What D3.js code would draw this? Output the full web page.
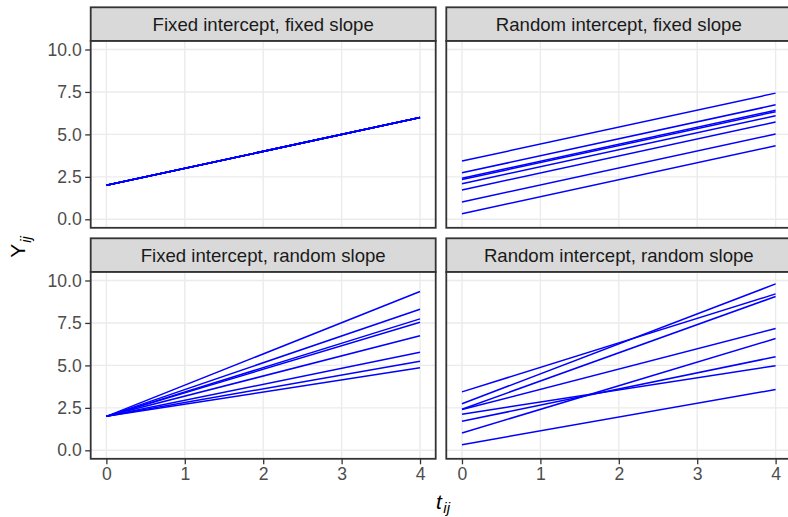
<!DOCTYPE html>
<html>
<head>
<meta charset="utf-8">
<script src="https://cdn.jsdelivr.net/npm/d3@7"></script>
<style>
  html, body { margin: 0; padding: 0; background: #ffffff; }
  svg { display: block; font-family: "Liberation Sans", Arial, Helvetica, sans-serif; }
</style>
</head>
<body>
<div id="chart"></div>
<script>
// ---------------- data ----------------
const panelTitles = [
  "Fixed intercept, fixed slope",
  "Random intercept, fixed slope",
  "Fixed intercept, random slope",
  "Random intercept, random slope"
];
const timePoints = [0, 4];
const yTicks = [0, 2.5, 5, 7.5, 10];
const xTicks = [0, 1, 2, 3, 4];

// value of Y at t = 0 and at t = 4 for each of the 8 subjects
const fifsStart = [2, 2, 2, 2, 2, 2, 2, 2];
const fifsEnd   = [6, 6, 6, 6, 6, 6, 6, 6];

const rifsStart = [3.43, 2.74, 2.42, 2.34, 2.10, 1.73, 1.02, 0.33];
const rifsEnd   = [7.43, 6.74, 6.42, 6.34, 6.10, 5.73, 5.02, 4.33];

const firsStart = [2, 2, 2, 2, 2, 2, 2, 2];
const firsEnd   = [9.35, 8.31, 7.74, 7.54, 6.75, 5.77, 5.24, 4.86];

const rirsStart = [3.44, 2.74, 2.42, 2.40, 2.13, 1.71, 1.02, 0.33];
const rirsEnd   = [9.21, 9.80, 9.06, 7.17, 4.98, 5.51, 6.58, 3.58];

const panelStarts = [fifsStart, rifsStart, firsStart, rirsStart];
const panelEnds   = [fifsEnd, rifsEnd, firsEnd, rirsEnd];

// ---------------- layout ----------------
const W = 788, H = 517;
const colLeft = [90.7, 446.3];
const panelW = 345;
const stripTop = [7.3, 238.3];
const stripH = 33.7;
const panelH = 186.8;

const svg = d3.select("#chart").append("svg")
  .attr("width", W).attr("height", H);

const x = d3.scaleLinear().domain([-0.2, 4.2]).range([0, panelW]);
const y = d3.scaleLinear().domain([-0.5, 10.5]).range([panelH, 0]);

const line = d3.line().x(d => x(d[0])).y(d => y(d[1]));

panelTitles.forEach((title, i) => {
  const col = i % 2, row = Math.floor(i / 2);
  const gx = colLeft[col];
  const sy = stripTop[row];
  const py = sy + stripH;

  // strip
  const strip = svg.append("g").attr("transform", `translate(${gx},${sy})`);
  strip.append("rect")
    .attr("width", panelW).attr("height", stripH)
    .attr("fill", "#D9D9D9").attr("stroke", "#333333").attr("stroke-width", 1.8);
  strip.append("text")
    .attr("x", panelW / 2).attr("y", stripH / 2)
    .attr("dy", "0.35em")
    .attr("text-anchor", "middle")
    .attr("font-size", 18.6)
    .attr("fill", "#1A1A1A")
    .text(title);

  const g = svg.append("g").attr("transform", `translate(${gx},${py})`);
  g.append("rect").attr("width", panelW).attr("height", panelH).attr("fill", "#ffffff");

  // grid
  g.append("g").selectAll("line.h").data(yTicks).join("line")
    .attr("x1", 0).attr("x2", panelW)
    .attr("y1", d => y(d)).attr("y2", d => y(d))
    .attr("stroke", "#EBEBEB").attr("stroke-width", 1.4);
  g.append("g").selectAll("line.v").data(xTicks).join("line")
    .attr("y1", 0).attr("y2", panelH)
    .attr("x1", d => x(d)).attr("x2", d => x(d))
    .attr("stroke", "#EBEBEB").attr("stroke-width", 1.4);

  // data lines
  const starts = panelStarts[i], ends = panelEnds[i];
  const series = starts.map((s, k) => [[timePoints[0], s], [timePoints[1], ends[k]]]);
  g.append("g").selectAll("path").data(series).join("path")
    .attr("d", line)
    .attr("fill", "none")
    .attr("stroke", "#0000FF")
    .attr("stroke-width", 1.5);

  // border
  g.append("rect").attr("width", panelW).attr("height", panelH)
    .attr("fill", "none").attr("stroke", "#333333").attr("stroke-width", 1.8);

  // axes
  if (col === 0) {
    const ax = g.append("g").call(
      d3.axisLeft(y).tickValues(yTicks).tickFormat(d3.format(".1f"))
        .tickSizeOuter(0).tickSizeInner(5.5).tickPadding(3.5));
    ax.select(".domain").remove();
    ax.selectAll(".tick line").attr("stroke", "#333333").attr("stroke-width", 1.3);
    ax.selectAll(".tick text").attr("fill", "#4D4D4D").attr("font-size", 17.6)
      .attr("font-family", "Liberation Sans, Arial, sans-serif");
  }
  if (row === 1) {
    const ax = g.append("g").attr("transform", `translate(0,${panelH})`).call(
      d3.axisBottom(x).tickValues(xTicks).tickFormat(d3.format("d"))
        .tickSizeOuter(0).tickSizeInner(5.5).tickPadding(3.5));
    ax.select(".domain").remove();
    ax.selectAll(".tick line").attr("stroke", "#333333").attr("stroke-width", 1.3);
    ax.selectAll(".tick text").attr("fill", "#4D4D4D").attr("font-size", 17.6)
      .attr("font-family", "Liberation Sans, Arial, sans-serif");
  }
});

// axis titles
const yt = svg.append("text")
  .attr("transform", "translate(25,247) rotate(-90)")
  .attr("text-anchor", "middle")
  .attr("font-size", 21)
  .attr("fill", "#000000");
yt.append("tspan").text("Y");
yt.append("tspan").attr("font-size", 15).attr("font-style", "italic")
  .attr("dy", 6).attr("dx", 1).text("ij");

const xt = svg.append("text")
  .attr("x", 443).attr("y", 509)
  .attr("text-anchor", "middle")
  .attr("font-size", 21)
  .attr("fill", "#000000");
xt.append("tspan").attr("font-style", "italic").text("t");
xt.append("tspan").attr("font-size", 15).attr("font-style", "italic")
  .attr("dy", 4).attr("dx", 1.5).text("ij");
</script>
</body>
</html>
